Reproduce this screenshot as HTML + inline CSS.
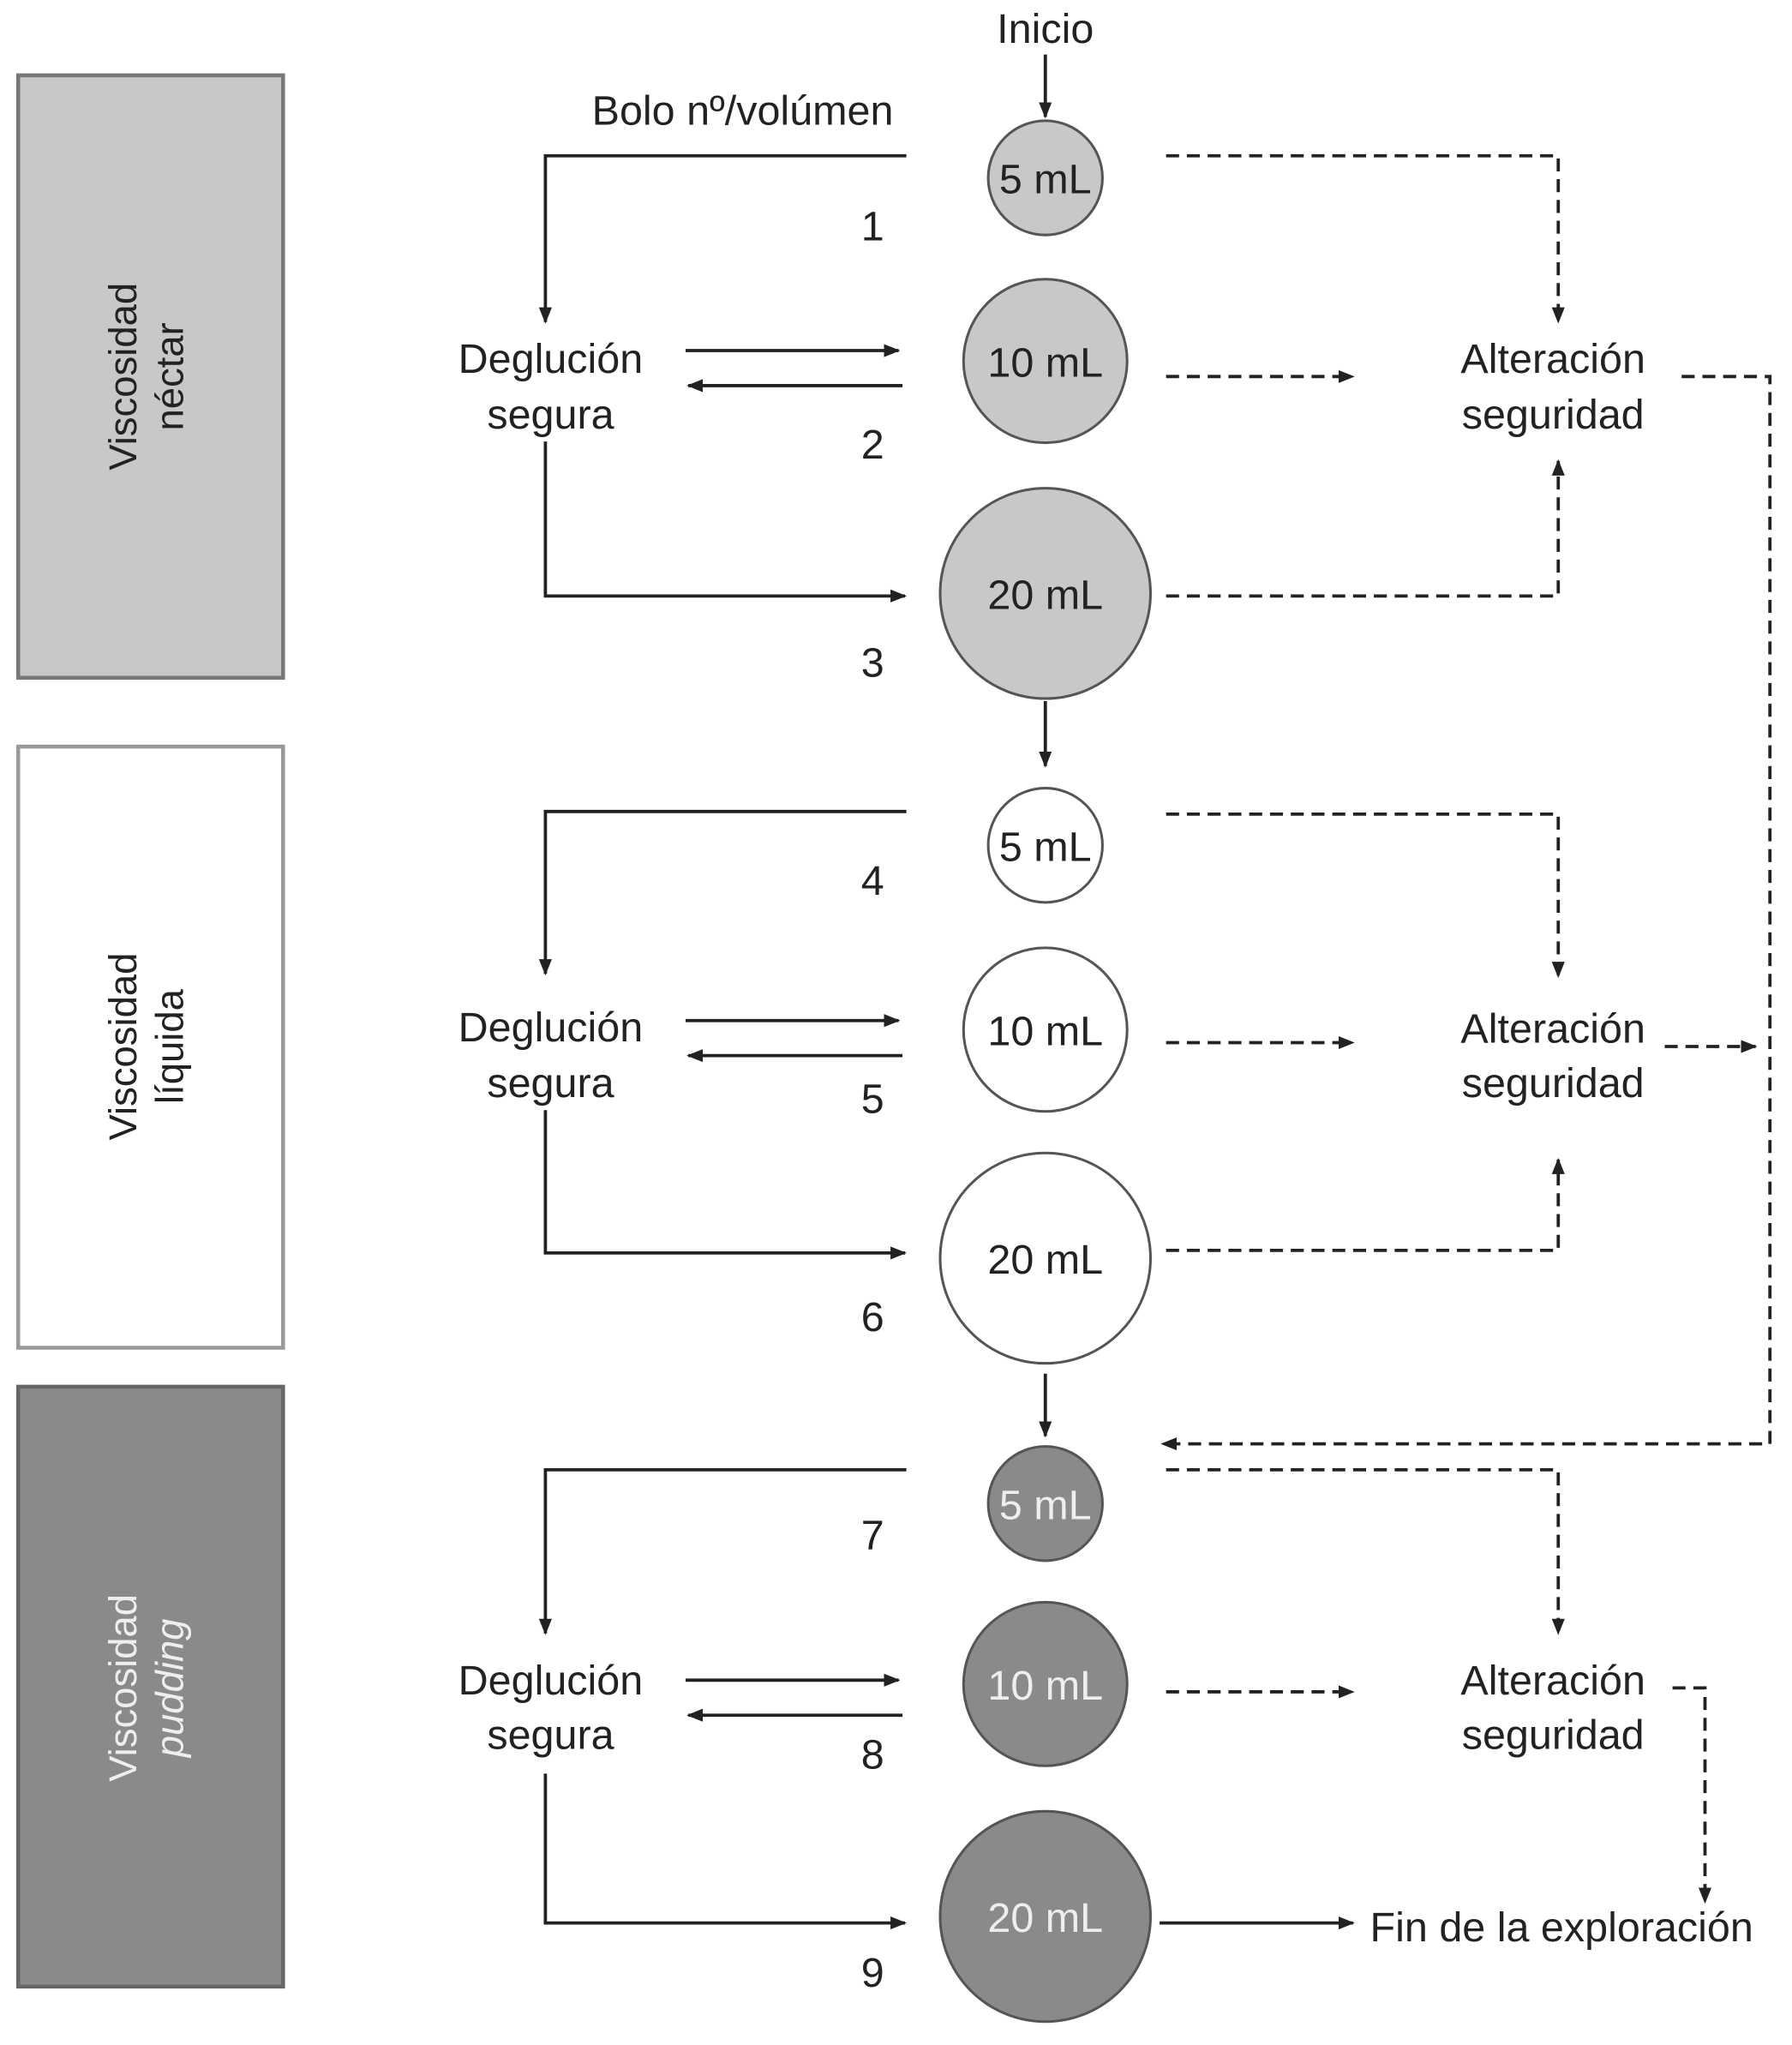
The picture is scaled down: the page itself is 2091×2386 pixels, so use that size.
<!DOCTYPE html>
<html><head><meta charset="utf-8"><style>html,body{margin:0;padding:0;background:#fff}svg{display:block}</style></head>
<body>
<svg width="2091" height="2386" viewBox="0 0 1380 1575" preserveAspectRatio="none" xmlns="http://www.w3.org/2000/svg" font-family="'Liberation Sans Narrow','Liberation Sans',sans-serif" fill="#222">
<defs>
<marker id="a" viewBox="0 0 10 10" refX="9" refY="5" markerWidth="5" markerHeight="5" orient="auto"><path d="M0,1 L10,5 L0,9 z" fill="#222"/></marker>
</defs>
<rect x="14" y="58" width="204" height="464" fill="#c8c8c8" stroke="#777" stroke-width="3"/>
<rect x="14" y="575" width="204" height="463" fill="#fff" stroke="#999" stroke-width="3"/>
<rect x="14" y="1068" width="204" height="462" fill="#8a8a8a" stroke="#666" stroke-width="3"/>
<g font-size="30" text-anchor="middle">
<text transform="translate(105,290) rotate(-90)"><tspan x="0" y="0">Viscosidad</tspan><tspan x="0" y="36">néctar</tspan></text>
<text transform="translate(105,806) rotate(-90)"><tspan x="0" y="0">Viscosidad</tspan><tspan x="0" y="36">líquida</tspan></text>
<text transform="translate(105,1300) rotate(-90)" fill="#eee"><tspan x="0" y="0">Viscosidad</tspan><tspan x="0" y="36" font-style="italic">pudding</tspan></text>
</g>
<g stroke="#555" stroke-width="2">
<circle cx="805" cy="137" r="44" fill="#c8c8c8"/><circle cx="805" cy="278" r="63" fill="#c8c8c8"/><circle cx="805" cy="457" r="81" fill="#c8c8c8"/>
<circle cx="805" cy="651" r="44" fill="#fff"/><circle cx="805" cy="793" r="63" fill="#fff"/><circle cx="805" cy="969" r="81" fill="#fff"/>
<circle cx="805" cy="1158" r="44" fill="#8a8a8a"/><circle cx="805" cy="1297" r="63" fill="#8a8a8a"/><circle cx="805" cy="1476" r="81" fill="#8a8a8a"/>
</g>
<g font-size="32" text-anchor="middle">
<text x="805" y="149">5 mL</text><text x="805" y="290">10 mL</text><text x="805" y="469">20 mL</text>
<text x="805" y="663">5 mL</text><text x="805" y="805">10 mL</text><text x="805" y="981">20 mL</text>
<g fill="#eee"><text x="805" y="1170">5 mL</text><text x="805" y="1309">10 mL</text><text x="805" y="1488">20 mL</text></g>
<text x="672" y="185">1</text><text x="672" y="353">2</text><text x="672" y="521">3</text>
<text x="672" y="689">4</text><text x="672" y="857">5</text><text x="672" y="1025">6</text>
<text x="672" y="1193">7</text><text x="672" y="1362">8</text><text x="672" y="1530">9</text>
<text x="805" y="33">Inicio</text>
<text x="688" y="96" text-anchor="end">Bolo nº/volúmen</text>
<text x="424" y="287">Deglución</text><text x="424" y="330">segura</text>
<text x="424" y="802">Deglución</text><text x="424" y="845">segura</text>
<text x="424" y="1305">Deglución</text><text x="424" y="1347">segura</text>
<text x="1196" y="287">Alteración</text><text x="1196" y="330">seguridad</text>
<text x="1196" y="803">Alteración</text><text x="1196" y="845">seguridad</text>
<text x="1196" y="1305">Alteración</text><text x="1196" y="1347">seguridad</text>
<text x="1055" y="1495" text-anchor="start">Fin de la exploración</text>
</g>
<g stroke="#222" stroke-width="2.5" fill="none" marker-end="url(#a)">
<path d="M805,42 V90"/><path d="M805,540 V590"/><path d="M805,1058 V1106"/>
<path d="M698,120 H420 V248"/><path d="M528,270 H692"/><path d="M695,297 H530"/><path d="M420,340 V459 H697"/>
<path d="M698,625 H420 V750"/><path d="M528,786 H692"/><path d="M695,813 H530"/><path d="M420,855 V965 H697"/>
<path d="M698,1132 H420 V1258"/><path d="M528,1294 H692"/><path d="M695,1321 H530"/><path d="M420,1366 V1481 H697"/>
<path d="M893,1481 H1042"/>
</g>
<g stroke="#222" stroke-width="2.5" fill="none" stroke-dasharray="10,6" marker-end="url(#a)">
<path d="M898,120 H1200 V248"/><path d="M898,290 H1042"/><path d="M898,459 H1200 V355"/>
<path d="M1295,290 H1363 V1112 H895"/>
<path d="M898,627 H1200 V752"/><path d="M898,803 H1042"/><path d="M898,963 H1200 V893"/>
<path d="M1282,806 H1352"/>
<path d="M898,1132 H1200 V1258"/><path d="M898,1303 H1042"/>
<path d="M1288,1300 H1313 V1465"/>
</g>
</svg>
</body></html>
